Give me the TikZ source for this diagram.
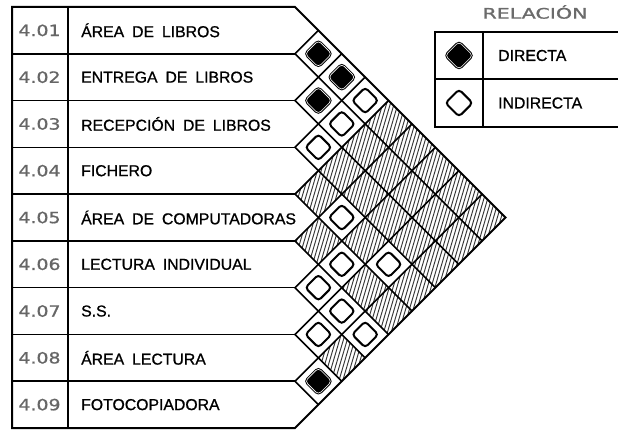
\documentclass[tikz,border=0pt]{standalone}
\usepackage{fontspec}
\setmainfont{Liberation Sans}[FakeBold=0.9]
\newfontfamily\namefont{Liberation Sans}[WordSpace=1.8, FakeBold=0.9]
\newfontfamily\codefont{DejaVu Sans}[FakeBold=0.9]
\usetikzlibrary{shapes.geometric}
\definecolor{codegray}{gray}{0.4}
\definecolor{titlegray}{gray}{0.42}
\definecolor{hatchgray}{gray}{0.22}
\tikzset{
  sym/.style={diamond, minimum size=27pt, inner sep=0pt, rounded corners=3.5pt, draw=black},
  dirsym/.style={sym, fill=black, line width=1pt, double=white, double distance=0.6pt},
  indsym/.style={sym, fill=white, line width=2pt},
  gridline/.style={line width=1.6pt, line cap=round},
  outline/.style={line width=2pt, line join=miter},
  codetxt/.style={inner sep=0pt, text=codegray, font=\codefont\fontsize{15.5}{15.5}\selectfont},
  nametxt/.style={inner sep=0pt, anchor=west, font=\namefont\fontsize{15.8}{15.8}\selectfont},
  legtxt/.style={inner sep=0pt, anchor=west, font=\fontsize{15.8}{15.8}\selectfont},
}
\begin{document}
\begin{tikzpicture}[x=1pt,y=-1pt]
\useasboundingbox (0,0) rectangle (618,430);
\def\a{23.39}
% hatching of the empty cells
\begin{scope}
\clip \foreach \i/\j in {4/5,5/6,3/5,7/9,2/5,3/6,4/7,5/8,1/5,2/6,3/7,5/9,1/6,2/7,3/8,4/9,1/7,2/8,3/9,1/8,2/9,1/9}
  { ({295+(\j-\i)*\a-\a},{7+(\i+\j-1)*\a}) -- ({295+(\j-\i)*\a},{7+(\i+\j-1)*\a-\a}) -- ({295+(\j-\i)*\a+\a},{7+(\i+\j-1)*\a}) -- ({295+(\j-\i)*\a},{7+(\i+\j-1)*\a+\a}) -- cycle };
\foreach \x in {120,123.8,...,520}
  \draw[hatchgray, line width=0.95pt] (\x,440) -- ({\x+130},0);
\end{scope}
% outline of the chart
\coordinate (tl) at (12,7);
\coordinate (tr) at (295,7);
\coordinate (apex) at ({295+9*\a},{7+9*\a});
\coordinate (br) at (295,428);
\coordinate (bl) at (12,428);
\coordinate (dt) at (68,7);
\coordinate (db) at (68,428);
\foreach \k in {1,...,8}{
  \coordinate (L\k) at (12,{7+2*\k*\a});
  \coordinate (P\k) at (295,{7+2*\k*\a});
  \coordinate (D\k) at ({295+(9-\k)*\a},{7+2*\k*\a+(9-\k)*\a});
  \coordinate (U\k) at ({295+\k*\a},{7+2*\k*\a-\k*\a});
  \draw[gridline] (L\k) -- (P\k);
  \draw[gridline] (P\k) -- (D\k);
  \draw[gridline] (P\k) -- (U\k);
}
\draw[gridline] (dt) -- (db);
\draw[outline] (tl) -- (tr) -- (apex) -- (br) -- (bl) -- cycle;
% row labels
\foreach \i/\code/\name in {1/4.01/ÁREA DE LIBROS, 2/4.02/ENTREGA DE LIBROS, 3/4.03/RECEPCIÓN DE LIBROS, 4/4.04/FICHERO, 5/4.05/ÁREA DE COMPUTADORAS, 6/4.06/LECTURA INDIVIDUAL, 7/4.07/S.S., 8/4.08/ÁREA LECTURA, 9/4.09/FOTOCOPIADORA}{
  \node[codetxt] (c\i) at (39.5,{7+(2*\i-1)*\a}) {\scalebox{1.22}[1]{\code}};
  \node[nametxt] (n\i) at (81,{7+(2*\i-1)*\a}) {\name};
}
% relation symbols
\foreach \i/\j in {1/2,2/3,8/9,1/3}
  \node[dirsym] (s\i\j) at ({295+(\j-\i)*\a},{7+(\i+\j-1)*\a}) {};
\foreach \i/\j in {3/4,6/7,7/8,2/4,4/6,5/7,6/8,1/4,6/9,4/8}
  \node[indsym] (s\i\j) at ({295+(\j-\i)*\a},{7+(\i+\j-1)*\a}) {};
% legend
\node[inner sep=0pt, text=titlegray, font=\codefont\fontsize{14.5}{14.5}\selectfont] (title) at (535,12) {\scalebox{1.42}[1]{RELACIÓN}};
\coordinate (g1) at (435,32);
\coordinate (g2) at (625,127);
\draw[outline] (g1) rectangle (g2);
\coordinate (gd1) at (483,32);
\coordinate (gd2) at (483,127);
\draw[outline] (gd1) -- (gd2);
\coordinate (gm1) at (435,79);
\coordinate (gm2) at (625,79);
\draw[gridline] (gm1) -- (gm2);
\node[dirsym, minimum size=28pt] (ld) at (459,55.5) {};
\node[indsym, minimum size=28pt] (li) at (459,103) {};
\node[legtxt] (lt1) at (498,55.5) {DIRECTA};
\node[legtxt] (lt2) at (498,103) {INDIRECTA};
\end{tikzpicture}
\end{document}
